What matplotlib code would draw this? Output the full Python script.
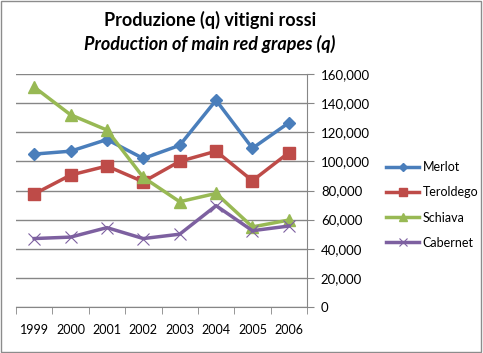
import matplotlib
matplotlib.use("Agg")
import matplotlib.pyplot as plt
from matplotlib.ticker import FuncFormatter, FixedLocator
import numpy as np

years = ["1999", "2000", "2001", "2002", "2003", "2004", "2005", "2006"]
merlot = [105000, 107000, 115000, 102000, 111000, 142000, 109000, 126500]
teroldego = [77600, 90600, 96800, 86000, 100000, 107000, 86700, 106000]
schiava = [151000, 132000, 121500, 89000, 72300, 78000, 55000, 59700]
cabernet = [47000, 48000, 54500, 47000, 50000, 69600, 52400, 55600]

plt.rcParams['font.family'] = ['Lato', 'DejaVu Sans']

fig = plt.figure(figsize=(4.83, 3.53), dpi=100)
fig.patch.set_facecolor("white")
# outer chart border
fig.add_artist(plt.Rectangle((0.002, 0.003), 0.994, 0.994, transform=fig.transFigure,
                             fill=False, edgecolor="#8c8c8c", linewidth=1))

ax = fig.add_axes([16 / 483, 1 - 307 / 353, 291 / 483, 233 / 353])
x = np.arange(len(years))

series = [
    ("Merlot", merlot, "#4A7EBB", "D", 6),
    ("Teroldego", teroldego, "#BE4B48", "s", 8),
    ("Schiava", schiava, "#98B954", "^", 8),
    ("Cabernet", cabernet, "#7D60A0", "x", 8),
]
for name, vals, col, mk, ms in series:
    ax.plot(x, vals, color=col, linewidth=2.5, marker=mk, markersize=ms,
            markeredgewidth=1 if mk != "x" else 0.8, label=name)

ax.set_xlim(-0.5, len(years) - 0.5)
ax.set_ylim(0, 160000)
ax.yaxis.tick_right()
ax.set_yticks(np.arange(0, 160001, 20000))
ax.yaxis.set_major_formatter(FuncFormatter(lambda v, p: f"{int(v):,}"))
ax.grid(axis="y", color="#868686", linewidth=1)
ax.set_axisbelow(True)

ax.set_xticks(x)
ax.set_xticklabels(years)
ax.xaxis.set_minor_locator(FixedLocator(np.arange(-0.5, len(years), 1)))
ax.tick_params(axis="x", which="major", length=0, pad=12, labelsize=9, colors="black")
ax.tick_params(axis="x", which="minor", length=5, direction="out", color="#868686")
ax.tick_params(axis="y", length=5, direction="out", color="#868686", labelsize=9.5, pad=5)

for s in ["top", "left"]:
    ax.spines[s].set_visible(False)
ax.spines["right"].set_color("#868686")
ax.spines["bottom"].set_color("#868686")

fig.text(210 / 483, 1 - 20 / 353, "Produzione (q) vitigni rossi", ha="center", va="center",
         fontsize=13, fontweight="bold")
fig.text(210 / 483, 1 - 44 / 353, "Production of main red grapes (q)", ha="center", va="center",
         fontsize=13, fontweight="bold", style="italic")

leg = ax.legend(loc="center left", bbox_to_anchor=(375 / 483, 1 - 205 / 353),
                bbox_transform=fig.transFigure, frameon=False, fontsize=9,
                handlelength=2.6, labelspacing=1.05, handletextpad=0.3, markerscale=0.75)

fig.savefig("out.png", dpi=100)
